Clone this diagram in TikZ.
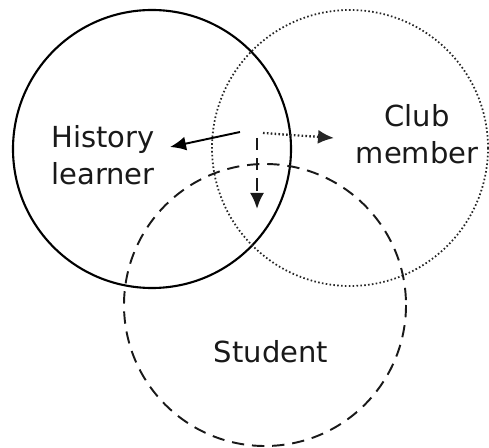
\documentclass[tikz,border=0pt]{standalone}
\usepackage{fontspec}
\setmainfont{DejaVu Sans}
\usetikzlibrary{arrows.meta,positioning}
\tikzset{
  >={Latex[length=3.2mm,width=2.8mm]},
  solidset/.style={draw=black,line width=1.2pt},
  dotset/.style={draw=black!85,line width=1pt,dash pattern=on 0.9pt off 1.3pt},
  dashset/.style={draw=black!90,line width=1.1pt,dash pattern=on 7pt off 4.5pt},
  setname/.style={align=center,font=\fontsize{16.5}{21}\selectfont,text=black!90,inner sep=0pt}
}
\begin{document}
\begin{tikzpicture}[x=0.02cm,y=-0.02cm]
  \useasboundingbox (0,0) rectangle (489,448);

  % the three sets
  \draw[solidset] (152,149) circle (139);
  \draw[dotset] (350,148) circle (138);
  \draw[dashset] (265,305) circle (141);

  \node[setname] (hist) at (103,155) {History\\learner};
  \node[setname] (club) at (417,134) {Club\\member};
  \node[setname] (stud) at (271,352) {Student};

  \coordinate (sA) at (240,132);
  \coordinate (sB) at (263,133);
  \coordinate (sC) at (257,138);
  \coordinate (tA) at (170,147);
  \coordinate (tB) at (334,138);
  \coordinate (tC) at (257,209);

  \draw[->,solidset,line width=1.1pt] (sA) -- (tA);
  \draw[->,dotset,line width=1.3pt] (sB) -- (tB);
  \draw[->,dashset,line width=1.3pt] (sC) -- (tC);
\end{tikzpicture}
\end{document}
